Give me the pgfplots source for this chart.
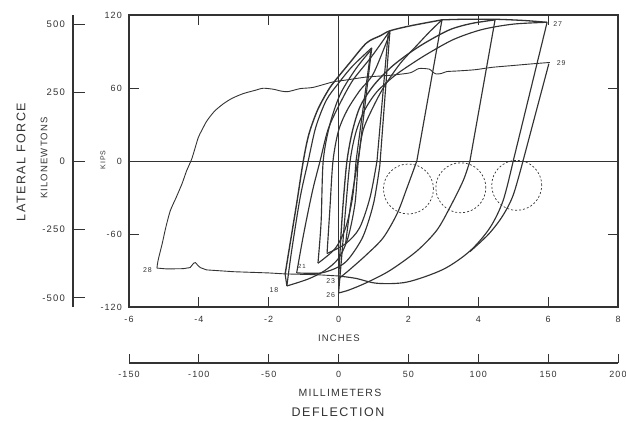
\documentclass[border=0pt]{standalone}
\usepackage{fontspec}
\setmainfont{Liberation Sans}[LetterSpace=12]
\usepackage{pgfplots}
\pgfplotsset{compat=1.18}
\definecolor{ink}{HTML}{333333}
\newcommand{\fs}[1]{\fontsize{#1}{#1}\selectfont}
\pgfplotsset{lp/.style={ink, mark=none, line width=1.15pt, line join=round}}
\begin{document}
\begin{tikzpicture}[x=1pt,y=1pt]
\useasboundingbox (0,0) rectangle (626,421);
% ---------------- main axis (inches / kips)
\begin{axis}[
  at={(129pt,114pt)}, anchor=south west, scale only axis,
  width=489pt, height=292pt,
  xmin=-6, xmax=8, ymin=-120, ymax=120,
  xtick={-6,-4,-2,0,2,4,6,8}, xticklabels={-6,-4,-2,0,2,4,6,8},
  ytick={-120,-60,0,60,120}, yticklabels={-120,-60,0,60,120},
  tick align=inside, major tick length=10pt,
  axis line style={ink, line width=1.1pt},
  tick style={ink, line width=0.9pt},
  xticklabel style={font=\fs{9}, text=ink, inner sep=0pt, yshift=-9pt},
  yticklabel style={font=\fs{9}, text=ink, inner sep=0pt, xshift=-7pt},
  clip=false,
]
% zero lines
\addplot[lp, line width=0.9pt] coordinates {(-6,0) (8,0)};
\addplot[lp, line width=0.9pt] coordinates {(0,-120) (0,120)};
% cycle 28-29 path
\addplot[lp, line width=0.9pt, smooth, tension=0.4] coordinates {
(6.05,81)(5.6,80)(5.0,78.5)(4.4,77)(3.9,75)(3.4,74)(3.1,73.5)(2.95,72)(2.8,71.5)(2.7,73)(2.6,75.5)(2.3,76)(2.05,72.5)(1.5,70.5)(0.8,69)(0.2,66.5)(-0.16,65)(-0.73,60.5)(-1.1,59.5)(-1.45,57)(-1.65,57.5)(-1.87,59)(-2.16,59.8)(-2.4,58)(-2.73,55.4)(-3.05,51.5)(-3.3,47)(-3.55,41)(-3.77,33)(-3.92,25)(-4.02,19)(-4.2,2)(-4.35,-8)(-4.48,-18.5)(-4.65,-30)(-4.82,-41)(-4.95,-55)(-5.05,-68)(-5.17,-82)(-5.2,-88)};
\addplot[lp, line width=0.9pt] coordinates {
(-5.2,-88)(-4.92,-88.7)(-4.45,-88.5)(-4.25,-87.6)(-4.15,-84)(-4.1,-83.5)(-4.02,-86)(-3.96,-87.6)(-3.78,-89.5)(-3,-91)(-2,-92)(-1.53,-92.8)(-0.6,-93.5)(0,-94.5)};
% large loops: unloading
\addplot[lp] coordinates {(5.97,114)(5.0,0)};
\addplot[lp, smooth] coordinates {(5.0,0)(4.71,-32.6)(4.33,-55)(3.76,-74)(3.0,-89)(1.96,-99.5)(1.1,-100.5)(0.5,-96.5)(0,-94.5)};
\addplot[lp] coordinates {(6.02,80)(5.28,0)};
\addplot[lp, smooth] coordinates {(5.28,0)(5.0,-28)(4.7,-45)(4.3,-60)(3.76,-74.5)};
\addplot[lp] coordinates {(4.48,116)(3.76,0)};
\addplot[lp, smooth] coordinates {(3.76,0)(3.57,-16)(3.19,-38)(2.81,-57)(2.24,-74)(1.47,-90)(0.8,-100)(0.3,-106)(0,-108.5)};
\addplot[lp] coordinates {(2.96,116)(2.24,0)};
\addplot[lp, smooth] coordinates {(2.24,0)(1.96,-22)(1.68,-43)(1.28,-63)(0.8,-77)(0.33,-89)(0.1,-94.5)(0,-97)};
% large loops: reloading
\addplot[lp, smooth, line width=1.3pt] coordinates {(0,-97)(0.06,-65)(0.13,-35)(0.24,0)(0.4,25)(0.62,45)(1.0,62)(1.5,77)(2.04,89)(2.53,98)(3.19,108)(3.8,113)(4.48,116)};
\addplot[lp, smooth] coordinates {(0,-108.5)(0.1,-75)(0.2,-40)(0.33,0)(0.5,24)(0.75,42)(1.1,57)(1.6,70)(2.1,80)(2.6,89)(3.3,100)(4.1,108)(5.0,112.5)(5.97,114)};
\addplot[lp, smooth] coordinates {(0.2,-68)(0.35,-35)(0.55,0)(0.7,25)(0.95,42)(1.28,60)(1.76,80)(2.24,95)(2.6,106)(2.96,116)};
\addplot[lp, smooth, line width=1.3pt] coordinates {(2.96,116)(3.6,116.5)(4.48,116.5)(5.3,115.5)(5.97,114)};
% inner loops: reloading
\addplot[lp, smooth, line width=1.4pt] coordinates {(-1.53,-93)(-1.4,-70)(-1.2,-35)(-1.01,0)(-0.85,22)(-0.6,42)(-0.3,58)(-0.1,66)(0.3,80)(0.8,97)(1.2,103)(1.47,107)(2.04,111)(2.96,116)};
\addplot[lp] coordinates {(-1.48,-102.7)(-1.53,-93)};
\addplot[lp, smooth] coordinates {(-1.48,-102.7)(-1.35,-75)(-1.1,-30)(-0.87,0)(-0.65,28)(-0.35,50)(0,64)(0.4,78)(0.95,93)};
\addplot[lp, smooth] coordinates {(-1.2,-92)(-1.0,-60)(-0.75,-25)(-0.53,0)(-0.3,26)(0,45)(0.4,66)(0.95,86)(1.47,107)};
\addplot[lp, smooth] coordinates {(-0.59,-84)(-0.5,-50)(-0.44,0)(-0.25,30)(0.05,55)(0.5,76)(0.95,92)};
\addplot[lp, smooth] coordinates {(-0.33,-76)(-0.25,-40)(-0.16,0)(0.0,25)(0.25,42)(0.61,58)(1.0,72)(1.47,105)};
% inner loops: unloading
\addplot[lp] coordinates {(0.95,93)(0.55,-4)};
\addplot[lp, smooth] coordinates {(0.55,-4)(0.47,-35)(0.27,-63)(0,-80)(-0.39,-90)(-0.87,-97)(-1.48,-102.7)};
\addplot[lp] coordinates {(0.92,90)(0.5,0)};
\addplot[lp, smooth] coordinates {(0.5,0)(0.4,-30)(0.2,-55)(-0.1,-72)(-0.59,-84)};
\addplot[lp] coordinates {(1.47,107)(1.18,-4)};
\addplot[lp, smooth] coordinates {(1.18,-4)(1.0,-35)(0.7,-62)(0.3,-80)(0,-87)(-0.5,-92)(-1.2,-92)};
\addplot[lp] coordinates {(1.42,105)(1.1,0)};
\addplot[lp, smooth] coordinates {(1.1,0)(0.9,-30)(0.6,-55)(0.2,-68)(-0.33,-76)};
% dashed circles
\addplot[only marks, mark=o, mark size=25pt, mark options={ink, line width=0.7pt, dash pattern=on 2pt off 2pt}] coordinates {(2.0,-23)(3.5,-22)(5.1,-20)};
% point labels
\node[font=\fs{7}, text=ink, anchor=east] at (axis cs:-5.25,-90) {28};
\node[font=\fs{7}, text=ink] at (axis cs:-1.85,-106) {18};
\node[font=\fs{6}, text=ink] at (axis cs:-1.05,-87) {21};
\node[font=\fs{7}, text=ink, anchor=east] at (axis cs:0,-99) {23};
\node[font=\fs{7}, text=ink, anchor=east] at (axis cs:0,-110) {26};
\node[font=\fs{7}, text=ink, anchor=west] at (axis cs:6.05,112.5) {27};
\node[font=\fs{7}, text=ink, anchor=west] at (axis cs:6.15,80.5) {29};
\end{axis}
% ---------------- kilonewton axis
\begin{axis}[
  at={(73pt,114pt)}, anchor=south west, scale only axis,
  width=20pt, height=292pt,
  xmin=0, xmax=1, ymin=-533.8, ymax=533.8,
  hide x axis, axis y line*=left,
  ytick={-500,-250,0,250,500}, yticklabels={-500,-250,0,250,500},
  tick align=inside, major tick length=12pt,
  axis line style={ink, line width=1.1pt},
  tick style={ink, line width=0.9pt},
  yticklabel style={font=\fs{9.5}, text=ink, inner sep=0pt, xshift=-8pt},
]
\addplot[draw=none] coordinates {(0,0)};
\end{axis}
% ---------------- millimetre axis
\begin{axis}[
  at={(129pt,58pt)}, anchor=south west, scale only axis,
  width=489pt, height=10pt,
  xmin=-150, xmax=200, ymin=0, ymax=1,
  hide y axis, axis x line*=bottom,
  xtick={-150,-100,-50,0,50,100,150,200},
  xticklabels={-150,-100,-50,0,50,100,150,200},
  tick align=inside, major tick length=9pt,
  axis line style={ink, line width=1.1pt},
  tick style={ink, line width=0.9pt},
  xticklabel style={font=\fs{9}, text=ink, inner sep=0pt, yshift=-8pt},
]
\addplot[draw=none] coordinates {(0,0.5)};
\end{axis}
% ---------------- titles
\node[rotate=90, font=\fs{12.5}, text=ink] at (21,259) {LATERAL FORCE};
\node[rotate=90, font=\fs{9.5}, text=ink] at (44,263) {KILONEWTONS};
\node[rotate=90, font=\fs{7}, text=ink] at (103,261) {KIPS};
\node[font=\fs{9.5}, text=ink] at (339,83) {INCHES};
\node[font=\fs{10.5}, text=ink] at (340,28) {MILLIMETERS};
\node[font=\fs{12.5}, text=ink] at (338,9) {DEFLECTION};
\end{tikzpicture}
\end{document}
